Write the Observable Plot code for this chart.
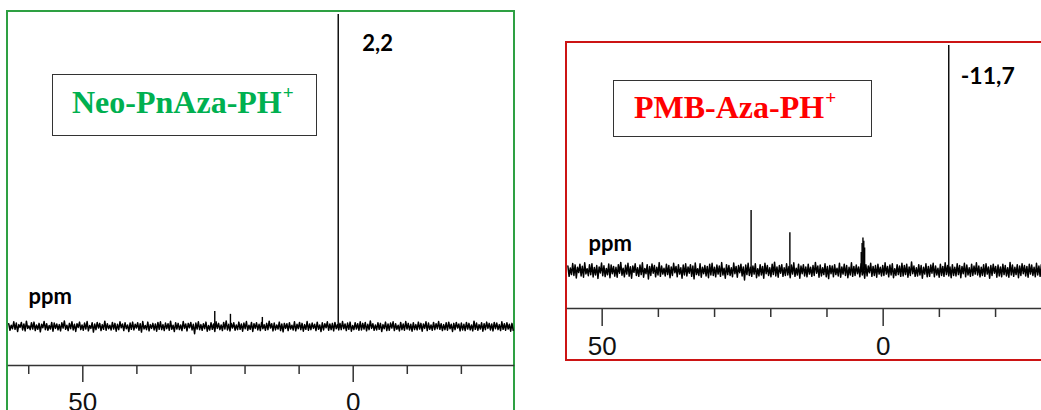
<!DOCTYPE html>
<html><head><meta charset="utf-8">
<script src="https://cdn.jsdelivr.net/npm/d3@7"></script>
<script src="https://cdn.jsdelivr.net/npm/@observablehq/plot@0.6"></script>
<style>
body{margin:0;background:#fff;}
#wrap{position:relative;width:1041px;height:410px;overflow:hidden;background:#fff;}
.panel{position:absolute;box-sizing:content-box;}
.panel svg{display:block;max-width:none !important;overflow:visible;}
.tag{position:absolute;box-sizing:border-box;border:1.5px solid #333;background:#fff;
 font-family:"Liberation Serif","Times New Roman",serif;font-weight:bold;font-size:32px;
 line-height:normal;white-space:nowrap;}
.tag sup{font-size:0.6em;vertical-align:0;position:relative;top:-0.75em;margin-left:1px;}
</style></head>
<body><div id="wrap"></div>
<script>
// ---------- data ----------
const leftTitle = "Neo-PnAza-PH";
const rightTitle = "PMB-Aza-PH";
const leftShiftLabel = "2,2";
const rightShiftLabel = "-11,7";
const unitLabel = "ppm";

const leftMajorTicks = [50, 0];
const leftMinorTicks = [60, 40, 30, 20, 10, -10, -20];
const rightMajorTicks = [50, 0];
const rightMinorTicks = [40, 30, 20, 10, -10, -20];

// peak positions (ppm) and heights (relative intensity, main peak = 100)
const leftPeakPpm = [2.77, 25.6, 22.7, 16.8];
const leftPeakHeight = [100, 4.8, 3.9, 2.9];
const rightPeakPpm = [-11.67, 23.5, 16.6, 3.3, 3.45, 3.6, 3.75, 3.9];
const rightPeakHeight = [100, 26.7, 16.8, 10, 13, 14.4, 12, 8];

// baseline noise, sampled on the spectrum's ppm grid
const leftNoiseStart = 63.7, leftNoiseStep = -0.2338;
const leftNoise = [
0.9,-1.2,0.4,-0.7,1.5,-0.9,1.1,-1.6,0.6,-0.3,1.3,-1.1,0.8,-1.4,1.7,-0.6,0.2,-1.0,1.2,-0.8,
1.4,-1.3,0.5,-0.9,1.0,-1.7,0.7,-0.4,1.6,-1.0,0.9,-1.2,0.3,-0.8,1.3,-1.5,1.1,-0.6,0.8,-1.1,
0.6,-1.4,1.2,-0.5,1.8,-0.9,0.4,-1.3,1.0,-0.7,1.5,-1.1,0.7,-1.6,0.9,-0.3,1.4,-1.0,0.5,-1.2,
1.1,-0.8,1.6,-1.4,0.3,-0.6,1.2,-1.8,0.8,-1.0,1.3,-0.5,1.0,-1.3,0.6,-0.9,1.7,-1.2,0.9,-0.7,
0.4,-1.1,1.3,-0.8,1.0,-1.5,0.7,-1.0,1.5,-0.4,0.8,-1.3,1.2,-0.7,0.5,-1.6,1.1,-0.9,1.4,-1.1,
0.7,-0.5,1.2,-1.2,0.9,-1.8,1.6,-0.8,0.3,-1.0,1.4,-1.4,0.6,-0.6,1.0,-1.1,0.8,-1.5,1.3,-0.9,
1.5,-1.0,0.6,-1.3,1.1,-0.7,0.9,-1.2,1.7,-0.9,0.4,-1.6,1.2,-0.8,1.0,-1.0,0.5,-1.3,1.6,-0.6,
0.8,-1.4,1.0,-0.4,1.3,-1.1,0.7,-2.3,1.1,-0.8,1.5,-1.0,0.6,-1.2,0.9,-0.7,1.4,-1.5,0.3,-1.1,
1.2,-0.9,0.8,-1.6,1.5,-0.6,1.0,-1.0,0.5,-1.3,1.3,-0.8,1.8,-1.1,0.7,-1.4,1.0,-0.5,1.2,-1.2,
0.5,-1.0,1.4,-0.9,0.8,-1.5,1.1,-0.7,1.6,-1.2,0.4,-0.9,1.3,-1.6,0.9,-0.6,1.2,-1.1,0.7,-1.3,
1.3,-0.7,0.6,-1.2,1.0,-1.0,1.7,-0.5,0.9,-1.4,1.1,-1.1,0.5,-0.8,1.4,-1.3,0.8,-1.7,1.0,-0.6,
0.9,-1.3,1.2,-0.8,0.4,-1.1,1.5,-1.4,0.7,-0.7,1.3,-1.0,1.0,-1.5,0.6,-0.9,1.6,-1.2,0.8,-1.0,
1.1,-0.6,0.7,-1.3,1.4,-0.9,0.5,-1.6,1.2,-1.1,0.9,-0.4,1.5,-1.2,0.8,-1.0,1.0,-1.4,1.3,-0.7,
0.6,-1.1,1.0,-1.0,1.6,-0.7,0.8,-1.3,1.1,-0.9,1.4,-1.5,0.3,-1.0,1.2,-0.8,0.9,-1.2,1.5,-1.1,
1.0,-0.8,1.3,-1.4,0.7,-1.0,1.8,-0.6,0.9,-1.2,0.5,-1.1,1.2,-0.9,1.0,-1.6,0.6,-0.7,1.4,-1.3,
0.8,-1.2,1.1,-0.5,1.5,-1.3,0.9,-0.9,0.4,-1.4,1.3,-1.0,0.8,-1.2,1.6,-0.8,1.0,-1.1,0.7,-1.5,
1.2,-1.0,0.6,-1.1,1.4,-0.8,1.0,-1.5,0.8,-0.6,1.5,-1.3,1.1,-0.9,0.5,-1.2,1.3,-1.0,0.9,-0.7,
1.6,-0.9,0.9,-1.3,0.6,-1.0,1.2,-1.2,1.4,-0.7,0.7,-1.6,1.0,-1.0,1.3,-0.5,0.8,-1.4,1.1,-1.1,
0.7,-1.3,1.3,-0.8,1.0,-1.1,0.5,-1.4,1.7,-0.9,1.1,-1.2,0.6,-0.8,1.2,-1.5,0.9,-1.0,1.4,-0.6,
1.0,-1.1,0.8,-1.4,1.3,-0.7,1.1,-1.0,0.6,-1.3,1.5,-0.9,0.9,-1.2,1.2,-0.8,0.7,-1.5,1.0,-1.2];

const rightNoiseStart = 56.1, rightNoiseStep = -0.2138;
const rightNoise = [
2.0,-2.6,1.1,-1.8,3.1,-2.2,2.5,-3.3,1.4,-0.9,2.8,-2.4,1.9,-3.0,3.4,-1.5,0.8,-2.3,2.6,-1.9,
3.0,-2.9,1.3,-2.0,2.2,-3.5,1.6,-1.1,3.3,-2.3,2.1,-2.7,0.9,-1.9,2.9,-3.2,2.4,-1.4,1.8,-2.5,
1.4,-3.0,2.6,-1.2,3.6,-2.1,1.0,-2.8,2.3,-1.6,3.2,-2.5,1.7,-3.4,2.0,-0.8,3.0,-2.2,1.2,-2.6,
2.4,-1.8,3.4,-3.0,0.9,-1.4,2.6,-3.8,1.8,-2.2,2.9,-1.2,2.2,-2.8,1.4,-2.0,3.5,-2.6,2.0,-1.6,
1.0,-2.4,2.8,-1.8,2.2,-3.2,1.6,-2.2,3.2,-1.0,1.8,-2.8,2.6,-1.6,1.2,-3.4,2.4,-2.0,3.0,-2.4,
1.6,-1.2,2.6,-2.6,2.0,-3.7,3.3,-1.8,0.8,-2.2,3.0,-3.0,1.4,-1.4,2.2,-2.4,1.8,-3.2,2.8,-2.0,
3.2,-2.2,1.4,-2.8,2.4,-1.6,2.0,-2.6,3.5,-2.0,1.0,-3.4,2.6,-1.8,2.2,-2.2,1.2,-2.8,3.3,-1.4,
1.8,-3.0,2.2,-1.0,2.8,-2.4,1.6,-4.2,2.4,-1.8,3.2,-2.2,1.4,-2.6,2.0,-1.6,3.0,-3.2,0.8,-2.4,
2.6,-2.0,1.8,-3.4,3.2,-1.4,2.2,-2.2,1.2,-2.8,2.8,-1.8,3.7,-2.4,1.6,-3.0,2.2,-1.2,2.6,-2.6,
1.2,-2.2,3.0,-2.0,1.8,-3.2,2.4,-1.6,3.4,-2.6,1.0,-2.0,2.8,-3.4,2.0,-1.4,2.6,-2.4,1.6,-2.8,
2.8,-1.6,1.4,-2.6,2.2,-2.2,3.6,-1.2,2.0,-3.0,2.4,-2.4,1.2,-1.8,3.0,-2.8,1.8,-3.6,2.2,-1.4,
2.0,-2.8,2.6,-1.8,1.0,-2.4,3.2,-3.0,1.6,-1.6,2.8,-2.2,2.2,-3.2,1.4,-2.0,3.4,-2.6,1.8,-2.2,
2.4,-1.4,1.6,-2.8,3.0,-2.0,1.2,-3.4,2.6,-2.4,2.0,-1.0,3.2,-2.6,1.8,-2.2,2.2,-3.0,2.8,-1.6,
1.4,-2.4,2.2,-2.2,3.4,-1.6,1.8,-2.8,2.4,-2.0,3.0,-3.2,0.8,-2.2,2.6,-1.8,2.0,-2.6,3.2,-2.4,
2.2,-1.8,2.8,-3.0,1.6,-2.2,3.8,-1.4,2.0,-2.6,1.2,-2.4,2.6,-2.0,2.2,-3.4,1.4,-1.6,3.0,-2.8,
1.8,-2.6,2.4,-1.2,3.2,-2.8,2.0,-2.0,1.0,-3.0,2.8,-2.2,1.8,-2.6,3.4,-1.8,2.2,-2.4,1.6,-3.2,
2.6,-2.2,1.4,-2.4,3.0,-1.8,2.2,-3.2,1.8,-1.4,3.2,-2.8,2.4,-2.0,1.2,-2.6,2.8,-2.2,2.0,-1.6,
3.4,-2.0,2.0,-2.8,1.4,-2.2,2.6,-2.6,3.0,-1.6,1.6,-3.4,2.2,-2.2,2.8,-1.2,1.8,-3.0,2.4,-2.4,
1.6,-2.8,2.8,-1.8,2.2,-2.4,1.2,-3.0,3.6,-2.0,2.4,-2.6,1.4,-1.8,2.6,-3.2,2.0,-2.2,3.0,-1.4,
2.2,-2.4,1.8,-3.0,2.8,-1.6,2.4,-2.2,1.4,-2.8,3.2,-2.0,2.0,-2.6,2.6,-1.8,1.6,-3.2,2.2,-2.6];

// ---------- build ----------
const wrap = document.getElementById("wrap");

function spectrumPanel(cfg) {
  const noise = cfg.noise.map((v, i) => ({ppm: cfg.noiseStart + i * cfg.noiseStep, v}));
  const peaks = cfg.peakPpm.map((p, i) => ({ppm: p, h: cfg.peakHeight[i]}));
  const main = [{ppm: cfg.peakPpm[0], label: cfg.shiftLabel}];
  const font = "Lato, 'Open Sans', sans-serif";
  return Plot.plot({
    width: cfg.width, height: cfg.height,
    marginLeft: 0, marginRight: 0, marginTop: 0, marginBottom: cfg.marginBottom,
    x: {domain: cfg.xDomain},
    y: {domain: [0, 100], range: cfg.yRange, axis: null},
    style: {background: "transparent", fontFamily: "'Liberation Sans', Arial, sans-serif", color: "#222", maxWidth: "none", overflow: "visible"},
    marks: [
      Plot.frame({anchor: "bottom", stroke: "#333", strokeWidth: 1.5}),
      Plot.axisX(cfg.minor, {tickSize: 9, tickFormat: () => "", label: null, stroke: "#333", strokeWidth: 1.5}),
      Plot.axisX(cfg.major, {tickSize: cfg.majorSize, tickPadding: 10, fontSize: 26, label: null, stroke: "#333", strokeWidth: 1.5, fill: "#111"}),
      Plot.line(noise, {x: "ppm", y: "v", stroke: "#000", strokeWidth: 1.5}),
      Plot.ruleX(peaks, {x: "ppm", y1: 0, y2: "h", stroke: "#000", strokeWidth: 1.4}),
      Plot.text(main, {x: "ppm", frameAnchor: "top", text: "label", textAnchor: "start", lineAnchor: "bottom",
        dx: cfg.labelDx, dy: cfg.labelDy, fontSize: cfg.labelSize, fontWeight: "bold", fontFamily: font, fill: "#000"}),
      Plot.text([unitLabel], {frameAnchor: "top-left", text: d => d, textAnchor: "start", lineAnchor: "bottom",
        dx: cfg.ppmDx, dy: cfg.ppmDy, fontSize: 22, fontWeight: "bold", fontFamily: font, fill: "#000"})
    ]
  });
}

function addPanel(left, top, w, h, borderColor, svg) {
  const d = document.createElement("div");
  d.className = "panel";
  Object.assign(d.style, {left: left + "px", top: top + "px", width: w + "px", height: h + "px",
    border: "2px solid " + borderColor});
  svg.style.maxWidth = "none";
  d.appendChild(svg);
  wrap.appendChild(d);
}

function addTag(left, top, w, h, color, title, padLeft, padTop) {
  const t = document.createElement("div");
  t.className = "tag";
  Object.assign(t.style, {left: left + "px", top: top + "px", width: w + "px", height: h + "px",
    color, paddingLeft: padLeft + "px", paddingTop: padTop + "px"});
  t.textContent = title;
  const s = document.createElement("sup"); s.textContent = "+"; t.appendChild(s);
  wrap.appendChild(t);
}

addPanel(6, 10, 505, 408, "#2ea043", spectrumPanel({
  width: 505, height: 408, marginBottom: 55,
  xDomain: [63.74, -29.64], yRange: [314, 2],
  noise: leftNoise, noiseStart: leftNoiseStart, noiseStep: leftNoiseStep,
  peakPpm: leftPeakPpm, peakHeight: leftPeakHeight, shiftLabel: leftShiftLabel,
  major: leftMajorTicks, minor: leftMinorTicks, majorSize: 17,
  labelDx: 24, labelDy: 38, labelSize: 22, ppmDx: 20, ppmDy: 291
}));

addPanel(565, 41, 480, 316, "#cc1414", spectrumPanel({
  width: 480, height: 316, marginBottom: 51,
  xDomain: [56.17, -29.24], yRange: [227, 2],
  noise: rightNoise, noiseStart: rightNoiseStart, noiseStep: rightNoiseStep,
  peakPpm: rightPeakPpm, peakHeight: rightPeakHeight, shiftLabel: rightShiftLabel,
  major: rightMajorTicks, minor: rightMinorTicks, majorSize: 18,
  labelDx: 12, labelDy: 40, labelSize: 23, ppmDx: 21, ppmDy: 207
}));

addTag(52, 74, 265, 62, "#00b050", leftTitle, 19, 9);
addTag(613, 80, 259, 57, "#ff0000", rightTitle, 20, 8);
</script></body></html>
